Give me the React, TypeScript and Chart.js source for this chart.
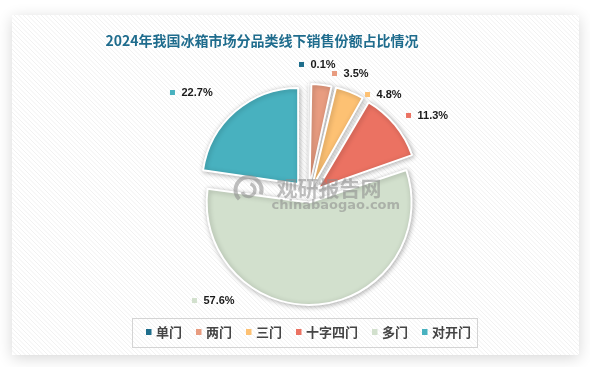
import { useEffect, useRef } from 'react';
import { Chart, registerables } from 'chart.js';

Chart.register(...registerables);

const TITLE = '2024年我国冰箱市场分品类线下销售份额占比情况';
const categories = ['单门', '两门', '三门', '十字四门', '多门', '对开门'];
const shares = [0.1, 3.5, 4.8, 11.3, 57.6, 22.7];
const colors = ['#1F6E8C', '#E89C80', '#FDC173', '#EB7262', '#D2E0CD', '#48B1BF'];
// Chart.js "offset" option (it is scaled internally per arc size)
const sliceOffsets = [32, 36, 37.6, 47.5, 26, 63];
// label anchor (marker centre) relative to pie centre, in units of the radius
const labelAnchors = [
  [-0.073, -1.37],
  [0.271, -1.276],
  [0.615, -1.057],
  [1.042, -0.839],
  [-1.188, 1.089],
  [-1.417, -1.078],
];

const CJK = '"Noto Sans CJK SC", "Noto Sans", sans-serif';

const decorPlugin = {
  id: 'decor',
  beforeDraw(chart: any) {
    const ctx = chart.ctx as CanvasRenderingContext2D;
    const W = chart.width, H = chart.height;
    ctx.save();
    ctx.fillStyle = '#ffffff';
    ctx.fillRect(0, 0, W, H);
    // card
    const cx = 12, cy = 15, cw = 567, ch = 340;
    ctx.shadowColor = 'rgba(0,0,0,0.16)';
    ctx.shadowBlur = 14;
    ctx.shadowOffsetY = 3;
    ctx.fillStyle = '#ffffff';
    ctx.fillRect(cx, cy, cw, ch);
    ctx.shadowColor = 'transparent';
    // hatching
    ctx.beginPath();
    ctx.rect(cx, cy, cw, ch);
    ctx.clip();
    ctx.strokeStyle = 'rgba(0,0,0,0.055)';
    ctx.lineWidth = 1;
    for (let s = -ch; s < cw + ch; s += 4.5) {
      ctx.beginPath();
      ctx.moveTo(cx + s, cy);
      ctx.lineTo(cx + s + ch, cy + ch);
      ctx.stroke();
    }
    ctx.restore();

    // title
    ctx.save();
    ctx.fillStyle = '#1F6C8D';
    ctx.font = `bold 14px ${CJK}`;
    ctx.textAlign = 'center';
    ctx.textBaseline = 'middle';
    ctx.fillText(TITLE, 262, 41);
    ctx.restore();
  },
  beforeDatasetsDraw(chart: any) {
    const ctx = chart.ctx as CanvasRenderingContext2D;
    ctx.save();
    ctx.shadowColor = 'rgba(0,0,0,0.28)';
    ctx.shadowBlur = 5;
    ctx.shadowOffsetX = 1;
    ctx.shadowOffsetY = 1;
  },
  afterDatasetsDraw(chart: any) {
    const ctx = chart.ctx as CanvasRenderingContext2D;
    ctx.restore();
    const meta = chart.getDatasetMeta(0);
    const arcs = meta.data;
    if (!arcs.length) return;
    const pcx = arcs[0].x, pcy = arcs[0].y, r = arcs[0].outerRadius;

    // watermark
    ctx.save();
    ctx.globalAlpha = 0.55;
    ctx.strokeStyle = '#8a8a8a';
    ctx.fillStyle = '#8a8a8a';
    ctx.lineWidth = 4;
    ctx.beginPath();
    ctx.arc(pcx - 60, pcy - 6, 13, Math.PI * 0.75, Math.PI * 2.1);
    ctx.stroke();
    ctx.lineWidth = 3.5;
    ctx.beginPath();
    ctx.arc(pcx - 60, pcy - 6, 6.5, Math.PI * 1.6, Math.PI * 2.9);
    ctx.stroke();
    ctx.font = `bold 21px ${CJK}`;
    ctx.textBaseline = 'middle';
    ctx.textAlign = 'left';
    ctx.fillText('观研报告网', pcx - 32, pcy - 8);
    ctx.font = 'bold 13px "DejaVu Sans", sans-serif';
    ctx.fillText('chinabaogao.com', pcx - 37, pcy + 10);
    ctx.restore();

    // data labels
    ctx.save();
    ctx.textBaseline = 'middle';
    ctx.textAlign = 'left';
    ctx.font = 'bold 11px "Liberation Sans", Arial, sans-serif';
    const data = chart.data.datasets[0].data as number[];
    const bg = chart.data.datasets[0].backgroundColor as string[];
    data.forEach((v, i) => {
      const mx = pcx + labelAnchors[i][0] * r;
      const my = pcy + labelAnchors[i][1] * r;
      ctx.fillStyle = bg[i];
      ctx.fillRect(mx - 2.5, my - 2.5, 5, 5);
      ctx.fillStyle = '#1a1a1a';
      ctx.fillText(v.toFixed(1) + '%', mx + 9, my + 0.5);
    });
    ctx.restore();
  },
  afterDraw(chart: any) {
    const ctx = chart.ctx as CanvasRenderingContext2D;
    const labels = chart.data.labels as string[];
    const bg = chart.data.datasets[0].backgroundColor as string[];
    ctx.save();
    // legend box
    ctx.strokeStyle = '#d4d4d4';
    ctx.lineWidth = 1;
    ctx.strokeRect(132.5, 318.5, 345, 29);
    ctx.font = `bold 13px ${CJK}`;
    ctx.textBaseline = 'middle';
    ctx.textAlign = 'left';
    let x = 146;
    const y = 332;
    labels.forEach((lab, i) => {
      ctx.fillStyle = bg[i];
      ctx.fillRect(x, y - 3, 5.5, 6);
      ctx.fillStyle = '#454545';
      ctx.fillText(lab, x + 10, y);
      x += 10 + ctx.measureText(lab).width + 14;
    });
    ctx.restore();
  },
};

export default function App() {
  const ref = useRef<HTMLCanvasElement | null>(null);
  useEffect(() => {
    if (!ref.current) return;
    const chart = new Chart(ref.current, {
      type: 'pie',
      data: {
        labels: categories,
        datasets: [
          {
            data: shares,
            backgroundColor: colors,
            borderColor: '#ffffff',
            borderWidth: 2,
            offset: sliceOffsets,
          },
        ],
      },
      options: {
        responsive: false,
        animation: false,
        radius: 96,
        layout: { padding: { left: 190, right: 163, top: 80, bottom: 55 } },
        plugins: {
          legend: { display: false },
          title: { display: false },
          tooltip: { enabled: false },
        },
      } as any,
      plugins: [decorPlugin],
    });
    return () => chart.destroy();
  }, []);
  return (
    <div style={{ position: 'fixed', left: 0, top: 0, width: 590, height: 367 }}>
      <canvas ref={ref} width={590} height={367} style={{ width: 590, height: 367, display: 'block' }} />
    </div>
  );
}
